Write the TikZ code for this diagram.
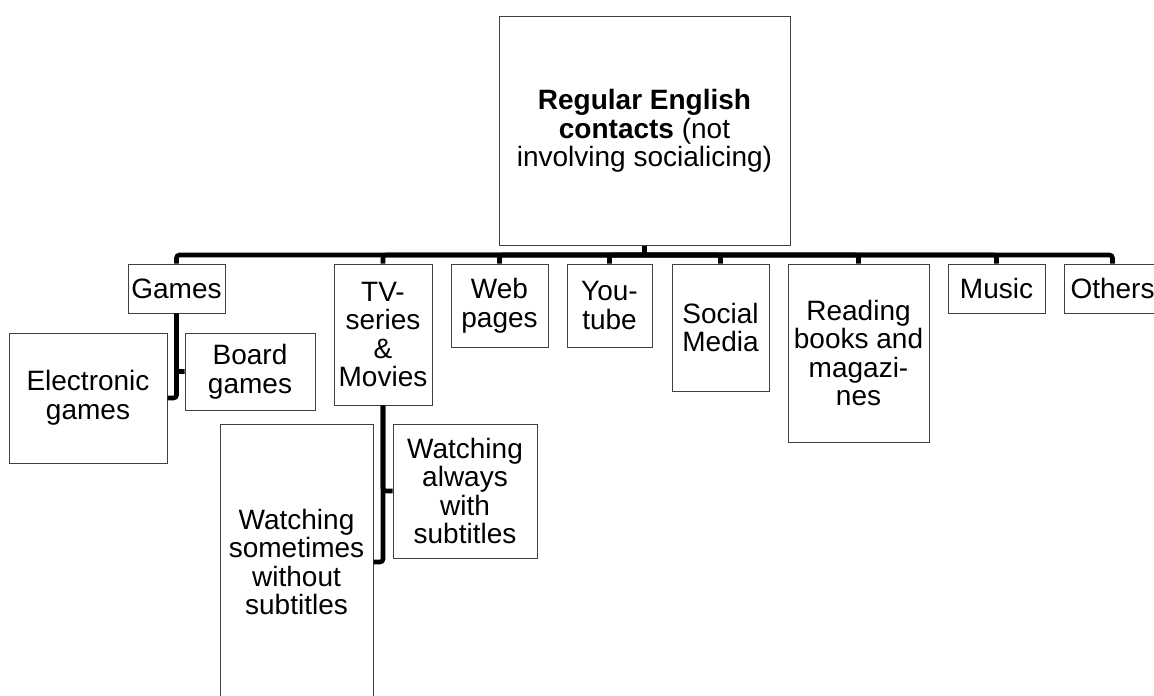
\documentclass[tikz,border=0pt]{standalone}
\usepackage{fontspec}
\setmainfont{Liberation Sans}

\begin{document}
\begin{tikzpicture}[x=0.5pt,y=-0.5pt,
    box/.style 2 args={draw=black!75, line width=0.5pt, align=center, inner sep=1pt,
        minimum width=#1*0.5pt, minimum height=#2*0.5pt,
        font=\fontsize{14}{14.3}\selectfont},
    link/.style={line width=2.3pt, rounded corners=1.5pt}]
    %frame
    \useasboundingbox (0,0) rectangle (1154,695);

    %top box
    \node[box={291}{228}] (root) at (644.5,131)
        {\textbf{Regular English}\\\textbf{contacts} (not\\involving socialicing)};

    %first row
    \node[box={97}{49}] (games) at (176.5,288.5) {Games};
    \node[box={98}{141}] (tv) at (383,334.5) {TV-\\series\\\&\\Movies};
    \node[box={97}{83}] (web) at (499.5,305.5) {Web\\pages};
    \node[box={85}{83}] (youtube) at (609.5,305.5) {You-\\tube};
    \node[box={97}{127}] (social) at (720.5,327.5) {Social\\Media};
    \node[box={141}{178}] (reading) at (858.5,353) {Reading\\books and\\magazi-\\nes};
    \node[box={97}{49}] (music) at (996.5,288.5) {Music};
    \node[box={97}{49}] (others) at (1112.5,288.5) {Others};

    %under games
    \node[box={158}{130}] (electronic) at (88,398) {Electronic\\games};
    \node[box={130}{77}] (board) at (250,371.5) {Board\\games};

    %under tv
    \node[box={153}{276}] (sometimes) at (296.5,562) {Watching\\sometimes\\without\\subtitles};
    \node[box={144}{134}] (always) at (465,491) {Watching\\always\\with\\subtitles};

    %bus lines
    \coordinate (bus) at (644.5,255);
    \draw[link] (root.south) -- (bus);
    \foreach \c in {games,tv,web,youtube,social,reading,music,others}
        \draw[link] (bus) -| (\c.north);

    \draw[link] (games.south) |- (electronic.east);
    \draw[link] (games.south) |- (board.west);

    \draw[link] (tv.south) |- (sometimes.east);
    \draw[link] (tv.south) |- (always.west);
\end{tikzpicture}
\end{document}
